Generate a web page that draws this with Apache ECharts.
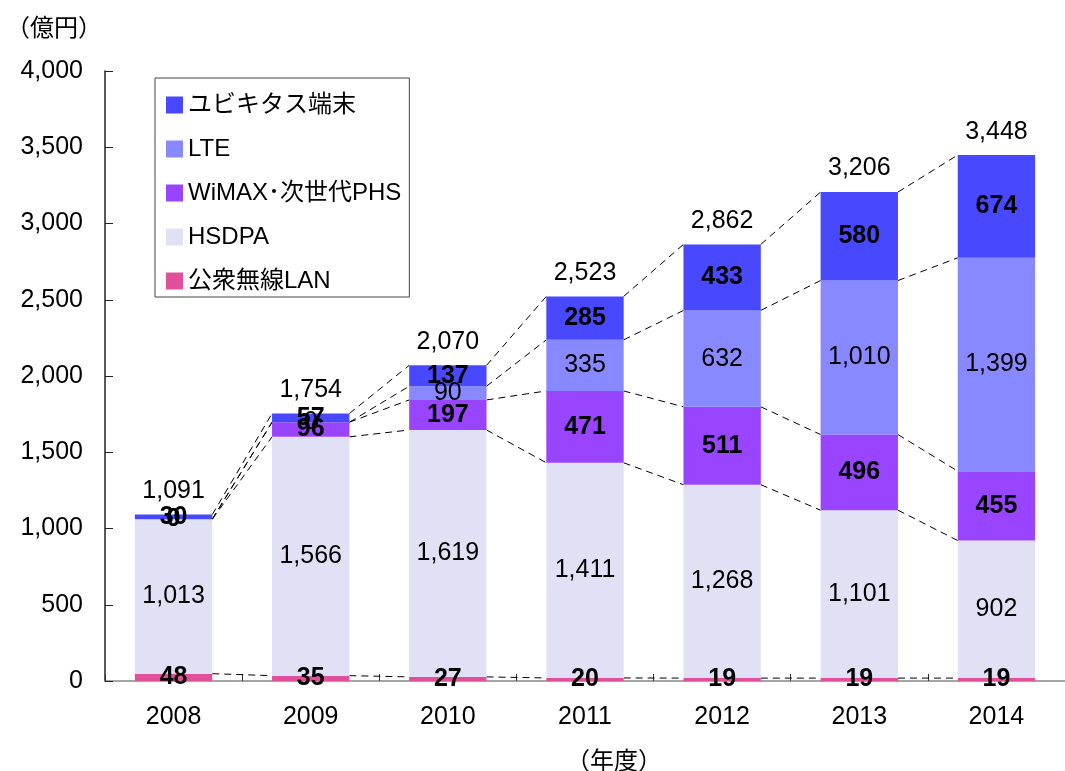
<!DOCTYPE html>
<html>
<head>
<meta charset="utf-8">
<script src="https://cdn.jsdelivr.net/npm/echarts@6/dist/echarts.min.js"></script>
<style>
  html, body { margin: 0; padding: 0; background: #fff; }
  #chart { width: 1065px; height: 771px; }
</style>
</head>
<body>
<div id="chart"></div>
<script>
const years = ['2008', '2009', '2010', '2011', '2012', '2013', '2014']
const wlan = [48, 35, 27, 20, 19, 19, 19]
const hsdpa = [1013, 1566, 1619, 1411, 1268, 1101, 902]
const wimax = [0, 96, 197, 471, 511, 496, 455]
const lte = [0, 0, 90, 335, 632, 1010, 1399]
const ubiq = [30, 57, 137, 285, 433, 580, 674]
const totals = [1091, 1754, 2070, 2523, 2862, 3206, 3448]
const yTicks = [0, 500, 1000, 1500, 2000, 2500, 3000, 3500, 4000]

const FONT = "'Liberation Sans', 'Noto Sans CJK JP', sans-serif"
const BAR_RATIO = 0.564
const stackOrder = [wlan, hsdpa, wimax, lte, ubiq]

const fmt = (v) => Number(v).toLocaleString('en-US')

function barSeries(name, data, color, bold) {
  return {
    name,
    type: 'bar',
    stack: 'total',
    data,
    barWidth: (BAR_RATIO * 100) + '%',
    itemStyle: { color },
    label: {
      show: true,
      position: 'inside',
      formatter: (p) => fmt(p.value),
      color: '#000',
      fontFamily: FONT,
      fontSize: 25,
      fontWeight: bold ? 'bold' : 'normal'
    },
    z: 3
  }
}

// dashed connectors between adjacent bars at each stack boundary
function renderConnectors(params, api) {
  const i = params.dataIndex
  if (i >= years.length - 1) return
  const bw = api.size([1, 0])[0] * BAR_RATIO
  const children = []
  let c0 = 0
  let c1 = 0
  stackOrder.forEach((s) => {
    c0 += s[i]
    c1 += s[i + 1]
    const p0 = api.coord([i, c0])
    const p1 = api.coord([i + 1, c1])
    children.push({
      type: 'line',
      shape: { x1: p0[0] + bw / 2, y1: p0[1], x2: p1[0] - bw / 2, y2: p1[1] },
      style: { stroke: '#000', lineWidth: 1, lineDash: [7, 5] }
    })
  })
  return { type: 'group', children }
}

const chart = echarts.init(document.getElementById('chart'))

chart.setOption({
  animation: false,
  textStyle: { fontFamily: FONT },
  title: [
    { text: '（億円）', left: 1, top: 12, textStyle: { fontSize: 24, fontWeight: 'normal', color: '#000', fontFamily: FONT } },
    { text: '（年度）', left: 561, top: 745, textStyle: { fontSize: 24, fontWeight: 'normal', color: '#000', fontFamily: FONT } }
  ],
  legend: {
    orient: 'vertical',
    left: 155,
    top: 78,
    padding: [15, 8, 4, 11],
    itemGap: 20,
    itemWidth: 17,
    itemHeight: 17,
    itemTextGap: 7,
    borderColor: '#444',
    borderWidth: 1,
    icon: 'rect',
    data: ['ユビキタス端末', 'LTE', 'WiMAX･次世代PHS', 'HSDPA', '公衆無線LAN'],
    textStyle: { fontSize: 24, color: '#000', fontFamily: FONT, lineHeight: 24 }
  },
  grid: { left: 105, right: -8, top: 71, bottom: 90 },
  xAxis: {
    type: 'category',
    data: years,
    axisLine: { lineStyle: { color: '#888', width: 1.5 } },
    axisTick: { show: true, inside: true, length: 7, interval: 0, lineStyle: { color: '#333' } },
    axisLabel: { color: '#000', fontSize: 25, margin: 24, fontFamily: FONT }
  },
  yAxis: {
    type: 'value',
    min: yTicks[0],
    max: yTicks[yTicks.length - 1],
    interval: yTicks[1] - yTicks[0],
    splitLine: { show: false },
    axisLine: { show: true, lineStyle: { color: '#222', width: 1.5 } },
    axisTick: { show: true, inside: true, length: 8, lineStyle: { color: '#222' } },
    axisLabel: { color: '#000', fontSize: 25, margin: 22, formatter: fmt, fontFamily: FONT }
  },
  series: [
    barSeries('公衆無線LAN', wlan, '#E0509A', true),
    barSeries('HSDPA', hsdpa, '#E1E1F6', false),
    barSeries('WiMAX･次世代PHS', wimax, '#9944FF', true),
    barSeries('LTE', lte, '#8888FF', false),
    barSeries('ユビキタス端末', ubiq, '#4848FF', true),
    {
      type: 'custom',
      renderItem: renderConnectors,
      data: years.map((y, i) => [i, totals[i]]),
      encode: { x: 0, y: 1 },
      silent: true,
      z: 2
    },
    {
      type: 'scatter',
      data: totals,
      symbolSize: 0,
      itemStyle: { color: '#000', opacity: 1 },
      label: {
        show: true,
        position: 'top',
        distance: 11,
        formatter: (p) => fmt(p.value),
        color: '#000',
        fontSize: 25,
        fontFamily: FONT
      },
      silent: true,
      z: 4
    }
  ]
})
</script>
</body>
</html>
